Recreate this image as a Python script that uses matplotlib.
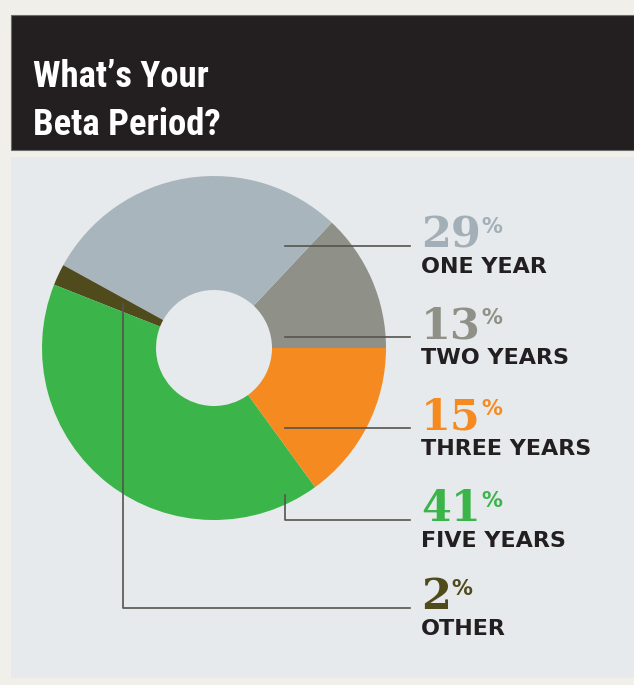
import matplotlib
matplotlib.use('Agg')
import matplotlib.pyplot as plt
from matplotlib.patches import Rectangle
from matplotlib import font_manager

# slices in drawing order, counter-clockwise from 3 o'clock
slice_names = ['TWO YEARS', 'ONE YEAR', 'OTHER', 'FIVE YEARS', 'THREE YEARS']
slice_shares = [13, 29, 2, 41, 15]
slice_colors = ['#8f9087', '#a9b5bd', '#4f4b1d', '#3bb44a', '#f58b20']

# labels on the right, top to bottom
label_names = ['ONE YEAR', 'TWO YEARS', 'THREE YEARS', 'FIVE YEARS', 'OTHER']
label_values = ['29', '13', '15', '41', '2']
label_colors = ['#a3afb7', '#8f9087', '#f58b20', '#3bb44a', '#4f4b1d']

title_lines = ['What\u2019s Your', 'Beta Period?']

W, H = 634, 685


def Y(y):
    # image rows -> axes coords (y up)
    return H - y


def pick_font(names):
    for n in names:
        try:
            font_manager.findfont(font_manager.FontProperties(family=n), fallback_to_default=False)
            return n
        except Exception:
            pass
    return None


title_font = pick_font(['Liberation Sans Narrow', 'Roboto Condensed', 'Open Sans Condensed',
                        'Noto Sans Condensed', 'DejaVu Sans Condensed'])
if title_font is None:
    title_kw = dict(family='DejaVu Sans', fontstretch='condensed', fontsize=24)
else:
    title_kw = dict(family=title_font, fontsize=26.5)

fig = plt.figure(figsize=(W / 100, H / 100), dpi=100, facecolor='#f1efe9')
ax = fig.add_axes([0, 0, 1, 1])

# panels
ax.add_patch(Rectangle((11, Y(678)), W - 11, 678 - 157, facecolor='#e7eaec', edgecolor='none', zorder=0))
ax.add_patch(Rectangle((11, Y(150)), W - 11, 150 - 15, facecolor='#231f20', edgecolor='#6b6b6b', lw=0.8, zorder=0))

ax.text(33, Y(87), title_lines[0], color='white', fontweight='bold',
        va='baseline', ha='left', **title_kw)
ax.text(33, Y(135), title_lines[1], color='white', fontweight='bold',
        va='baseline', ha='left', **title_kw)

# donut
cx, cy, R, r_in = 214, 348, 172, 58
ax.pie(slice_shares, colors=slice_colors, startangle=0, counterclock=True,
       center=(cx, Y(cy)), radius=R,
       wedgeprops=dict(width=R - r_in, linewidth=0, zorder=1))

ax.set_xlim(0, W)
ax.set_ylim(0, H)
ax.set_aspect('equal')
ax.axis('off')

# leader lines
lc = '#55554d'
base_y = [246, 337, 428, 520, 608]
line_end = 410
for yy in base_y[:3]:
    ax.plot([285, line_end], [Y(yy), Y(yy)], color=lc, lw=1.2, zorder=3)
ax.plot([285, 285, line_end], [Y(495), Y(520), Y(520)], color=lc, lw=1.2, zorder=3)
ax.plot([123, 123, line_end], [Y(304), Y(608), Y(608)], color=lc, lw=1.2, zorder=3)

# labels
renderer = fig.canvas.get_renderer()
for name, val, col, yy in zip(label_names, label_values, label_colors, base_y):
    t = ax.text(421, Y(yy + 1), val, color=col, fontsize=31, fontweight='bold',
                family='DejaVu Serif', va='baseline', ha='left')
    bb = t.get_window_extent(renderer=renderer)
    ax.text(bb.x1 + 1, Y(yy - 13), '%', color=col, fontsize=15, fontweight='bold',
            family='DejaVu Sans', va='baseline', ha='left')
    ax.text(421, Y(yy + 27), name, color='#231f20', fontsize=16, fontweight='bold',
            family='DejaVu Sans', va='baseline', ha='left')

fig.savefig('out.png', dpi=100, facecolor=fig.get_facecolor())
